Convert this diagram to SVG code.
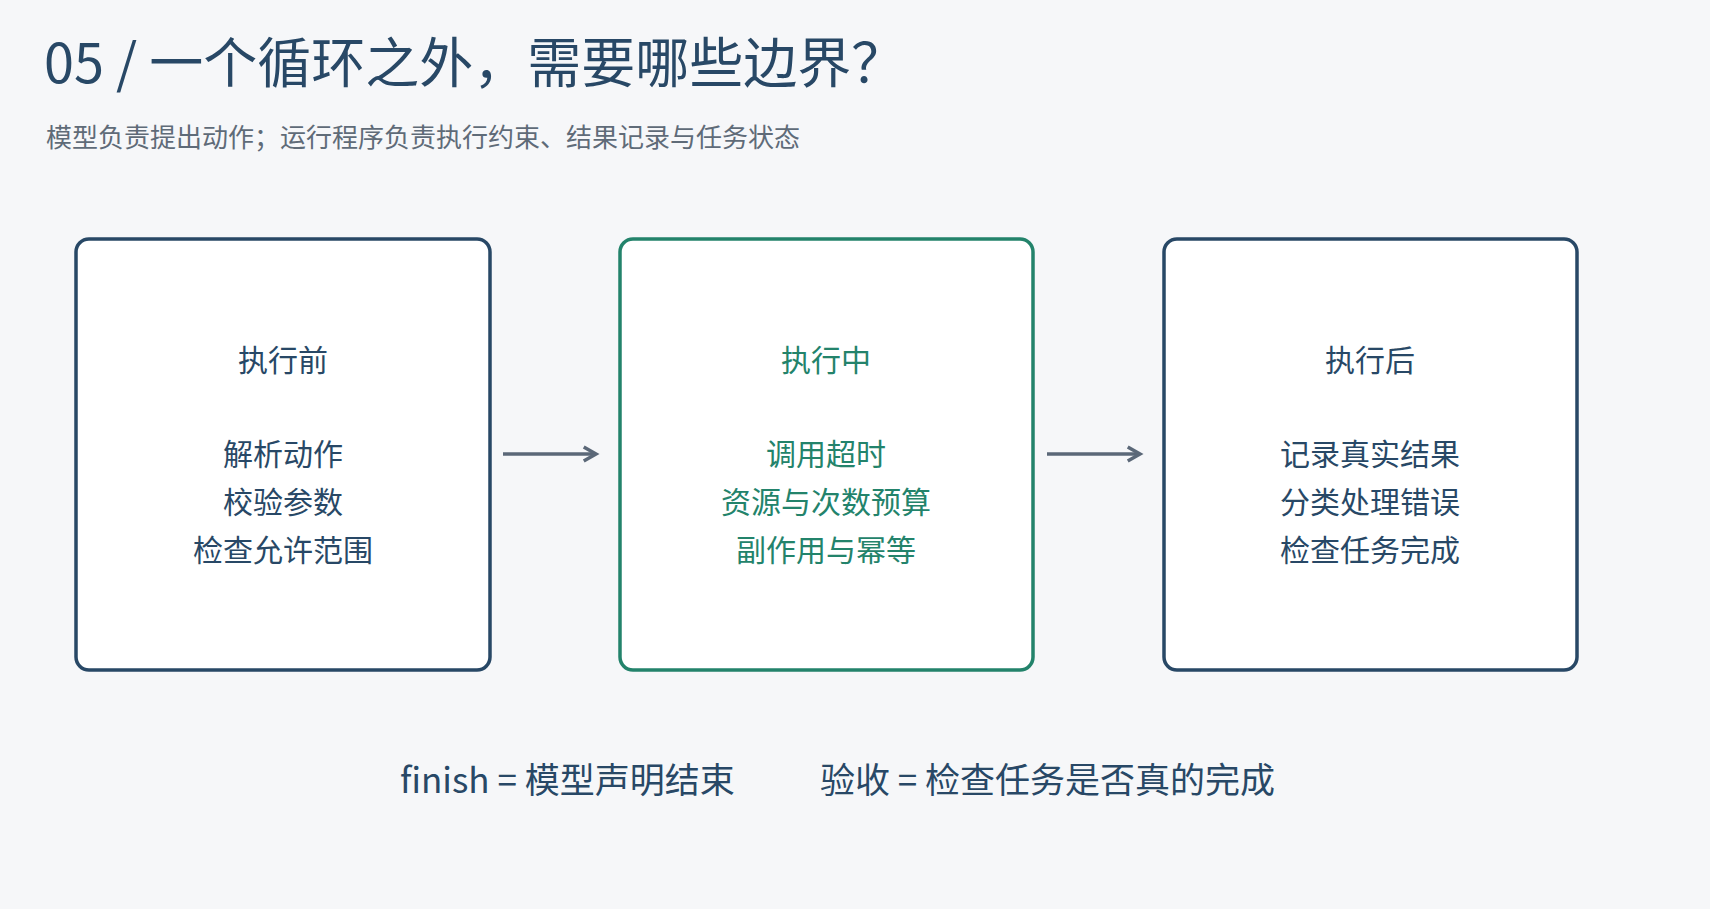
<svg xmlns="http://www.w3.org/2000/svg" width="1710" height="909" viewBox="0 0 1710 909">
<style>
text{font-family:"Noto Sans CJK SC","Noto Sans",sans-serif}
.box{fill:#fff;stroke-width:3.5}
.d{stroke:#284866}.g{stroke:#23836b}
.td{fill:#284866}.tg{fill:#23836b}
.h{font-size:30px;text-anchor:middle}
.b{font-size:30px;text-anchor:middle}
.c{stroke:#5b6878;stroke-width:3.5;fill:none;marker-end:url(#ah)}
</style>
<defs><marker id="ah" viewBox="0 0 10 10" refX="8" refY="5" markerWidth="5" markerHeight="5" orient="auto"><path d="M1,1 L8,5 L1,9" fill="none" stroke="#5b6878" stroke-width="2"/></marker></defs>
<rect width="1710" height="909" fill="#f6f7f9"/>
<text x="44" y="83" font-size="54" fill="#284866">05 / 一个循环之外，需要哪些边界？</text>
<text x="46" y="147" font-size="26" fill="#5f6b78">模型负责提出动作；运行程序负责执行约束、结果记录与任务状态</text>
<g id="n1"><rect class="box d" x="76" y="239" width="414" height="431" rx="13"/>
<text class="h td" x="283" y="371">执行前</text>
<text class="b td" x="283" y="465">解析动作</text><text class="b td" x="283" y="513">校验参数</text><text class="b td" x="283" y="561">检查允许范围</text></g>
<g id="n2"><rect class="box g" x="620" y="239" width="413" height="431" rx="13"/>
<text class="h tg" x="826" y="371">执行中</text>
<text class="b tg" x="826" y="465">调用超时</text><text class="b tg" x="826" y="513">资源与次数预算</text><text class="b tg" x="826" y="561">副作用与幂等</text></g>
<g id="n3"><rect class="box d" x="1164" y="239" width="413" height="431" rx="13"/>
<text class="h td" x="1370" y="371">执行后</text>
<text class="b td" x="1370" y="465">记录真实结果</text><text class="b td" x="1370" y="513">分类处理错误</text><text class="b td" x="1370" y="561">检查任务完成</text></g>
<g id="connectors"><path class="c" d="M503,454 H596"/><path class="c" d="M1047,454 H1140"/></g>
<text x="400" y="793" font-size="35" fill="#284866">finish = 模型声明结束</text>
<text x="820" y="793" font-size="35" fill="#284866">验收 = 检查任务是否真的完成</text>
</svg>
